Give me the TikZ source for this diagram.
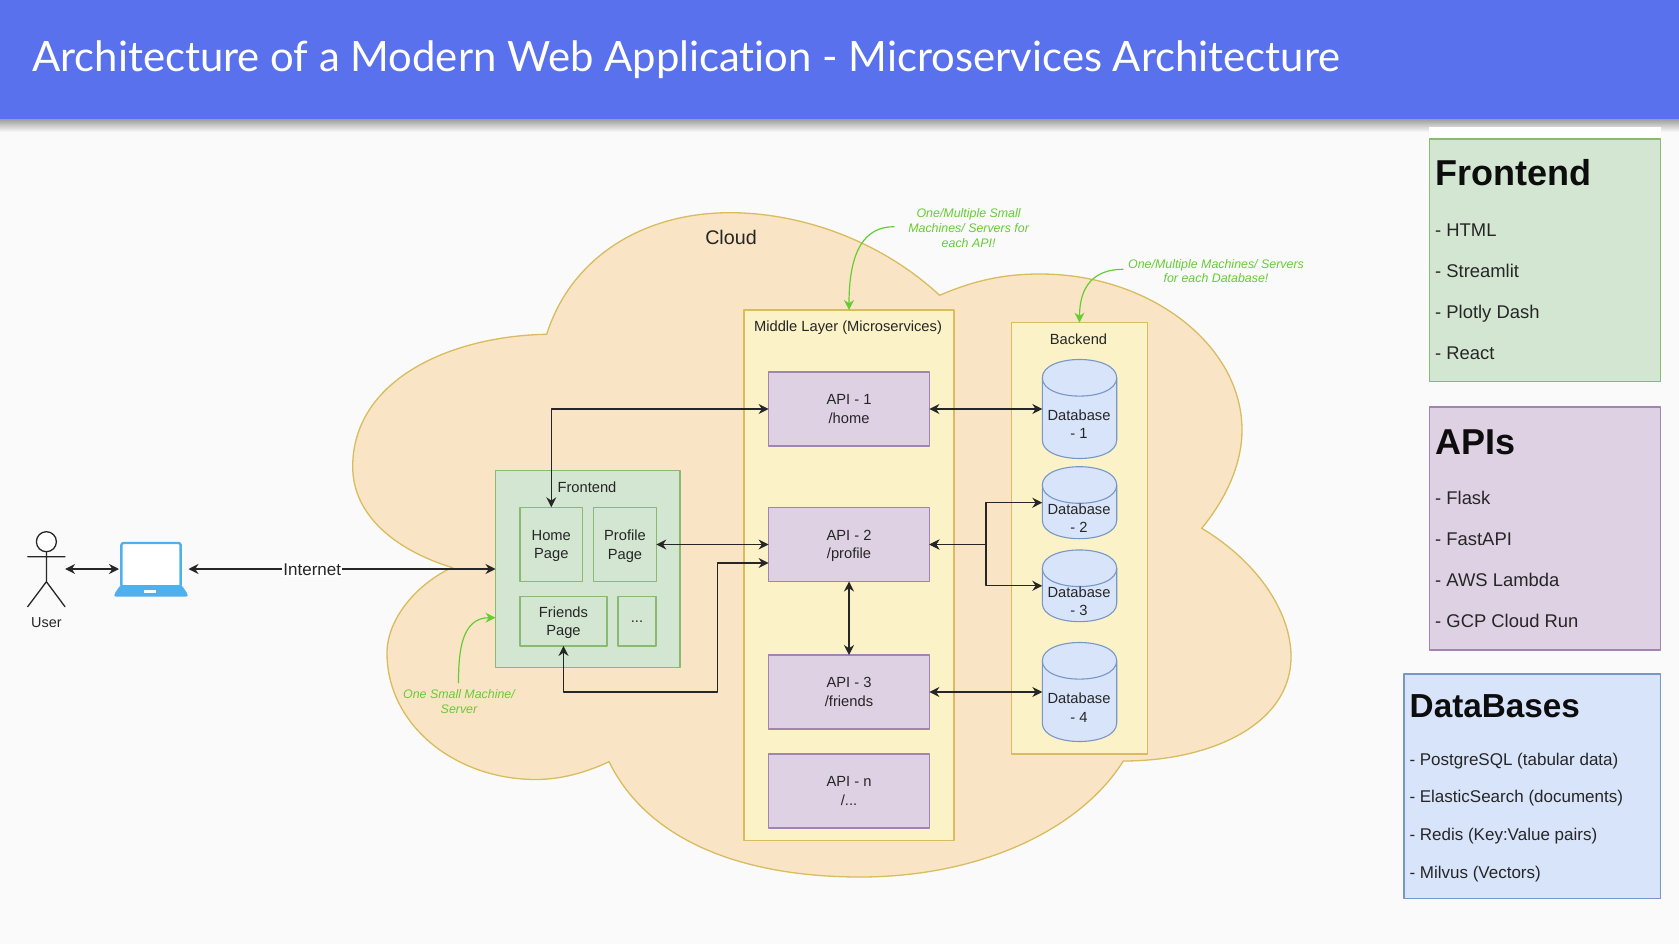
\documentclass[tikz,border=0pt]{standalone}
\usepackage{fontspec}
\setmainfont{Liberation Sans}
\newfontfamily\headerfont[Ligatures=NoCommon]{Lato}
\usetikzlibrary{arrows.meta}
\definecolor{headerblue}{HTML}{5A71EE}
\definecolor{pagegray}{HTML}{FAFAFA}
\definecolor{cloudfill}{HTML}{F9E5C6}
\definecolor{yellowfill}{HTML}{FBF2C8}
\definecolor{yellowline}{HTML}{D8BC5E}
\definecolor{greenfill}{HTML}{D3E6D2}
\definecolor{greenline}{HTML}{8BB972}
\definecolor{purplefill}{HTML}{DED1E4}
\definecolor{purpleline}{HTML}{A184B0}
\definecolor{bluefill}{HTML}{D8E4FA}
\definecolor{blueline}{HTML}{7896C6}
\definecolor{notegreen}{HTML}{66CC33}
\definecolor{laptopblue}{HTML}{4FB0EE}
\newcommand{\drawdb}[1]{
	\draw[draw=blueline,fill=bluefill,line width=1.1pt]
		([yshift=-18.3pt]#1.north west) .. controls +(0,-24.4) and +(0,-24.4) .. ([yshift=-18.3pt]#1.north east)
		-- ([yshift=18.3pt]#1.south east) .. controls +(0,24.4) and +(0,24.4) .. ([yshift=18.3pt]#1.south west) -- cycle;
	\draw[draw=blueline,line width=1.1pt]
		([yshift=-18.3pt]#1.north west) .. controls +(0,24.4) and +(0,24.4) .. ([yshift=-18.3pt]#1.north east);
}
\tikzset{
	boxtext/.style={font=\fontsize{14.7}{18.5}\selectfont,align=center,inner sep=0pt,outer sep=0pt,text=black!85},
	lowered/.style={text depth=0pt},
	greenbox/.style={boxtext,draw=greenline,fill=greenfill,line width=1.1pt},
	yellowbox/.style={draw=yellowline,fill=yellowfill,line width=1.1pt,inner sep=0pt,outer sep=0pt},
	apibox/.style={boxtext,draw=purpleline,fill=purplefill,line width=1.1pt,minimum width=160.8pt,minimum height=74pt},
	dbbox/.style={inner sep=0pt,outer sep=0pt,minimum width=74.4pt},
	link/.style={<->,line width=1.25pt,draw=black!85},
	notelink/.style={->,line width=1.2pt,draw=notegreen},
	notetext/.style={font=\fontsize{12.4}{14.7}\selectfont\itshape,align=center,text=notegreen,inner sep=0pt},
	paneltitle/.style={font=\fontsize{36}{40}\selectfont\bfseries,anchor=base west,inner sep=0pt,text=black!95},
	panelitem/.style={font=\fontsize{18.4}{20}\selectfont,anchor=base west,inner sep=0pt,text=black!85},
	dbitem/.style={panelitem,font=\fontsize{17}{20}\selectfont},
}
\begin{document}
\begin{tikzpicture}[line cap=round,line join=round,>={Stealth[length=10pt,width=10pt]},x=1pt,y=-1pt]
	\useasboundingbox (0,0) rectangle (1679,944);
	\fill[pagegray] (0,0) rectangle (1679,944);
	\shade[top color=black!38,bottom color=pagegray] (0,119) rectangle (1679,132);
	\fill[headerblue] (0,0) rectangle (1679,119);
	\node[font=\fontsize{41.8}{46}\selectfont\headerfont,text=white,anchor=base west,inner sep=0pt] (title) at (32,71.7) {Architecture of a Modern Web Application - Microservices Architecture};
	% cloud
	\draw[draw=yellowline,fill=cloudfill,line width=1.3pt,line join=miter]
		(546.7,334.3) .. controls (570,260) and (640,212.7) .. (730,212.7)
		.. controls (800,212.7) and (880,240) .. (939.6,295.3)
		.. controls (975,280) and (1005,274) .. (1040,274)
		.. controls (1150,274) and (1242,345) .. (1242,430)
		.. controls (1242,465) and (1225,500) .. (1201.7,528.3)
		.. controls (1255,560) and (1291,610) .. (1291,656.7)
		.. controls (1291,725) and (1210,761) .. (1123.3,761)
		.. controls (1080,830) and (980,877) .. (860,877)
		.. controls (750,877) and (650,845) .. (609,761.7)
		.. controls (585,773) and (560,779.5) .. (536,779.5)
		.. controls (455,779.5) and (387,725) .. (387,653)
		.. controls (387,620) and (415,585) .. (452,567.5)
		.. controls (395,550) and (352.7,515) .. (352.7,466.7)
		.. controls (352.7,380) and (450,336) .. (546.7,334.3) -- cycle;
	\node[boxtext,font=\fontsize{19.7}{22}\selectfont] (cloudlabel) at (731,237) {Cloud};
	% user and laptop
	\node[inner sep=0pt,outer sep=0pt,minimum width=37.4pt,minimum height=75pt] (user) at (46.4,569) {};
	\draw[line width=1.3pt,draw=black!85,fill=white] (46.4,541.7) circle (10pt);
	\draw[line width=1.3pt,draw=black!85] (46.4,551.7) -- (46.4,581.7) -- (27.7,606.7) (46.4,581.7) -- (65,606.7) (27.7,556.7) -- (65,556.7);
	\node[boxtext,font=\fontsize{14.4}{16}\selectfont] (userlabel) at (46.4,622.7) {User};
	\node[inner sep=0pt,outer sep=0pt,minimum width=69.5pt,minimum height=55pt] (laptop) at (153.75,569) {};
	\draw[draw=laptopblue,fill=white,line width=2.4pt,rounded corners=2pt] (121.4,543) rectangle (180.6,587);
	\fill[laptopblue,rounded corners=2pt] (120.5,585) -- (181.5,585) -- (187.7,594) -- (187.7,596.7) -- (114.3,596.7) -- (114.3,594) -- cycle;
	\fill[white] (144.3,590) rectangle (156,593.3);
	% frontend
	\node[greenbox,minimum width=184.5pt,minimum height=197pt] (frontendbox) at (587.75,569) {};
	\node[boxtext] (frontendlabel) at (587,487) {Frontend};
	\node[greenbox,lowered,minimum width=62.6pt,minimum height=74.4pt] (home) at (551.3,544.5) {Home\\Page};
	\node[greenbox,lowered,minimum width=62.6pt,minimum height=74.4pt] (profile) at (625,544.5) {Profile\\Page};
	\node[greenbox,lowered,minimum width=87pt,minimum height=49.3pt] (friends) at (563.5,621.3) {Friends\\Page};
	\node[greenbox,minimum width=38pt,minimum height=49.3pt] (more) at (637,621.3) {...};
	% middle layer
	\node[yellowbox,minimum width=210pt,minimum height=530.6pt] (middle) at (849,575.3) {};
	\node[boxtext] (middlelabel) at (848,327.6) {Middle Layer (Microservices)};
	\node[apibox] (api1) at (849,409) {API - 1\\/home};
	\node[apibox,lowered] (api2) at (849,544.5) {API - 2\\/profile};
	\node[apibox] (api3) at (849,692) {API - 3\\/friends};
	\node[apibox] (apin) at (849,791) {API - n\\/...};
	% backend
	\node[yellowbox,minimum width=135.6pt,minimum height=431.3pt] (backend) at (1079.5,538.3) {};
	\node[boxtext] (backendlabel) at (1078.5,339.5) {Backend};
	\node[dbbox,minimum height=99pt] (db1) at (1079.5,409) {};
	\node[dbbox,minimum height=72pt] (db2) at (1079.5,502.7) {};
	\node[dbbox,minimum height=71.7pt] (db3) at (1079.5,585.8) {};
	\node[dbbox,minimum height=99pt] (db4) at (1079.5,692) {};
	\drawdb{db1}
	\drawdb{db2}
	\drawdb{db3}
	\drawdb{db4}
	\node[boxtext] (dblabel1) at (1079,424.1) {Database\\- 1};
	\node[boxtext] (dblabel2) at (1079,518.3) {Database\\- 2};
	\node[boxtext] (dblabel3) at (1079,601.4) {Database\\- 3};
	\node[boxtext] (dblabel4) at (1079,707.6) {Database\\- 4};
	% connectors
	\coordinate (friendsturn) at (717.5,692);
	\coordinate (api2low) at (768.6,563);
	\coordinate (dbfork) at (986,544.5);
	\draw[link] (user.east) -- (laptop.west);
	\draw[link] (laptop.east) -- node[pos=.403,boxtext,fill=white,font=\fontsize{17}{19}\selectfont,inner sep=1pt,text height=14pt] (internet) {Internet} (frontendbox.west);
	\draw[link] (home.north) |- (api1.west);
	\draw[link] (profile.east) -- (api2.west);
	\draw[link] (friends.south) |- (friendsturn) |- (api2low);
	\draw[link] (api1.east) -- (db1.west);
	\draw[link] (api2.east) -- (dbfork) |- (db2.west);
	\draw[link] (api2.east) -- (dbfork) |- (db3.west);
	\draw[link] (api2.south) -- (api3.north);
	\draw[link] (api3.east) -- (db4.west);
	% green notes
	\node[notetext] (notefront) at (459,701.7) {One Small Machine/\\Server};
	\node[notetext] (noteapi) at (968.6,228) {One/Multiple Small\\Machines/ Servers for\\each API!};
	\node[notetext] (notedb) at (1216,271) {One/Multiple Machines/ Servers\\for each Database!};
	\coordinate (notefrontstart) at (458.5,682.7);
	\coordinate (notefrontend) at (495.5,617.7);
	\coordinate (noteapistart) at (894,226.7);
	\coordinate (notedbstart) at (1123,269.3);
	\draw[notelink] (notefrontstart) .. controls (458.5,650) and (462,617.7) .. (notefrontend);
	\draw[notelink] (noteapistart) .. controls (865,226.7) and (849,250) .. (middle.north);
	\draw[notelink] (notedbstart) .. controls (1095,269.3) and (1079.5,285) .. (backend.north);
	% panels
	\fill[white] (1429.3,126.7) rectangle (1660.7,139);
	\node[draw=greenline,fill=greenfill,line width=1.1pt,minimum width=231.4pt,minimum height=242.7pt,inner sep=0pt] (panelfront) at (1545,260.35) {};
	\node[paneltitle] (panelfronttitle) at (1435,185.7) {Frontend};
	\node[panelitem] (html) at (1435,236.7) {- HTML};
	\node[panelitem] (streamlit) at (1435,277.5) {- Streamlit};
	\node[panelitem] (plotly) at (1435,318.3) {- Plotly Dash};
	\node[panelitem] (react) at (1435,359.2) {- React};
	\node[draw=purpleline,fill=purplefill,line width=1.1pt,minimum width=231.4pt,minimum height=243pt,inner sep=0pt] (panelapi) at (1545,528.5) {};
	\node[paneltitle] (panelapititle) at (1435,454) {APIs};
	\node[panelitem] (flask) at (1435,504.2) {- Flask};
	\node[panelitem] (fastapi) at (1435,545) {- FastAPI};
	\node[panelitem] (lambda) at (1435,586.3) {- AWS Lambda};
	\node[panelitem] (cloudrun) at (1435,627) {- GCP Cloud Run};
	\node[draw=blueline,fill=bluefill,line width=1.1pt,minimum width=256.7pt,minimum height=224.7pt,inner sep=0pt] (paneldb) at (1532.35,786.35) {};
	\node[paneltitle,font=\fontsize{33.3}{38}\selectfont\bfseries] (paneldbtitle) at (1409.5,717) {DataBases};
	\node[dbitem] (postgres) at (1409.3,765) {- PostgreSQL (tabular data)};
	\node[dbitem] (elastic) at (1409.3,802.3) {- ElasticSearch (documents)};
	\node[dbitem] (redis) at (1409.3,840.7) {- Redis (Key:Value pairs)};
	\node[dbitem] (milvus) at (1409.3,878.3) {- Milvus (Vectors)};
\end{tikzpicture}
\end{document}
